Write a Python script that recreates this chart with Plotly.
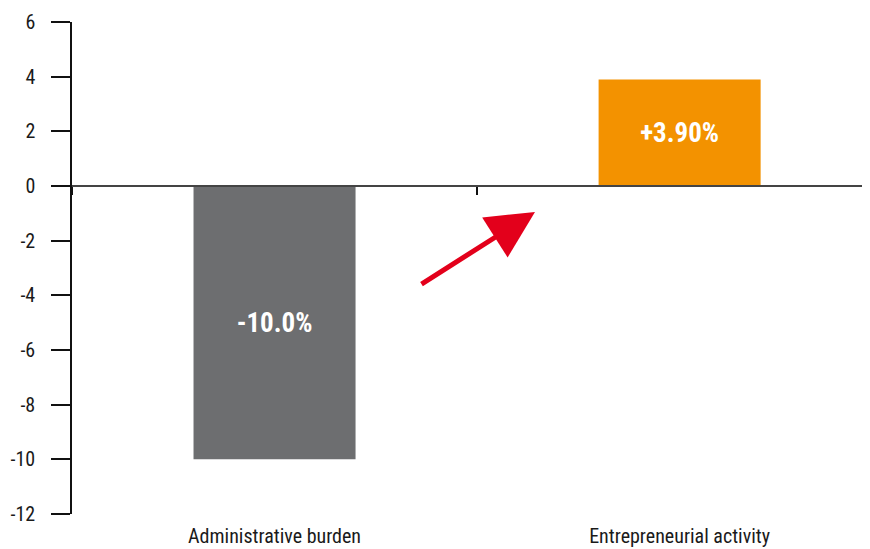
import plotly.graph_objects as go

categories = ["Administrative burden", "Entrepreneurial activity"]
values = [-10.0, 3.9]
bar_labels = ["-10.0%", "+3.90%"]
bar_colors = ["#6d6e70", "#f39200"]
y_ticks = [6, 4, 2, 0, -2, -4, -6, -8, -10, -12]
y_tick_labels = ["6", "4", "2", "0", "-2", "-4", "-6", "-8", "-10", "-12"]

FONT = "Liberation Sans Narrow, Roboto Condensed, Arial Narrow, Roboto, sans-serif"

fig = go.Figure()
fig.add_trace(go.Bar(
    x=[0, 1], y=values, width=0.4,
    marker=dict(color=bar_colors, line=dict(width=0)),
    text=bar_labels, textposition="inside", insidetextanchor="middle",
    textfont=dict(family=FONT, size=27, color="white", weight="bold"),
    hoverinfo="skip", showlegend=False,
))
# invisible trace to activate the zero-line axis
fig.add_trace(go.Scatter(x=[0], y=[0], xaxis="x2", mode="markers",
                         marker=dict(opacity=0), showlegend=False, hoverinfo="skip"))

fig.add_annotation(
    x=0.643, y=-0.95, xref="x", yref="y",
    ax=-115, ay=73, axref="pixel", ayref="pixel",
    showarrow=True, arrowhead=2, arrowsize=1.9, arrowwidth=5,
    arrowcolor="#e3001b", text="",
)

fig.update_layout(
    width=862, height=541,
    margin=dict(l=64, r=0, t=14, b=35),
    paper_bgcolor="white", plot_bgcolor="white",
    font=dict(family=FONT, size=20, color="#1a1a1a"),
    bargap=0.6,
    xaxis=dict(
        range=[-0.5, 1.47], tickvals=[0, 1], ticktext=categories,
        showline=False, showgrid=False, zeroline=False, ticks="",
        tickfont=dict(size=20), ticklabelstandoff=8, automargin=False,
    ),
    xaxis2=dict(
        range=[-0.5, 1.47], overlaying="x", anchor="free", position=2/3,
        side="bottom", showline=True, linecolor="#444444", linewidth=2,
        tickvals=[-0.5, 0.5, 1.5], ticks="outside", ticklen=8, tickwidth=1.5,
        tickcolor="#111111", showticklabels=False, showgrid=False, zeroline=False,
        automargin=False,
    ),
    yaxis=dict(
        range=[-12, 6], tickvals=y_ticks, ticktext=y_tick_labels,
        showline=True, linecolor="#111111", linewidth=1.5,
        ticks="outside", ticklen=19, tickwidth=1.5, tickcolor="#111111",
        showgrid=False, zeroline=False, tickfont=dict(size=20),
        ticklabelstandoff=12, automargin=False,
    ),
)

fig.write_html("out.html")
